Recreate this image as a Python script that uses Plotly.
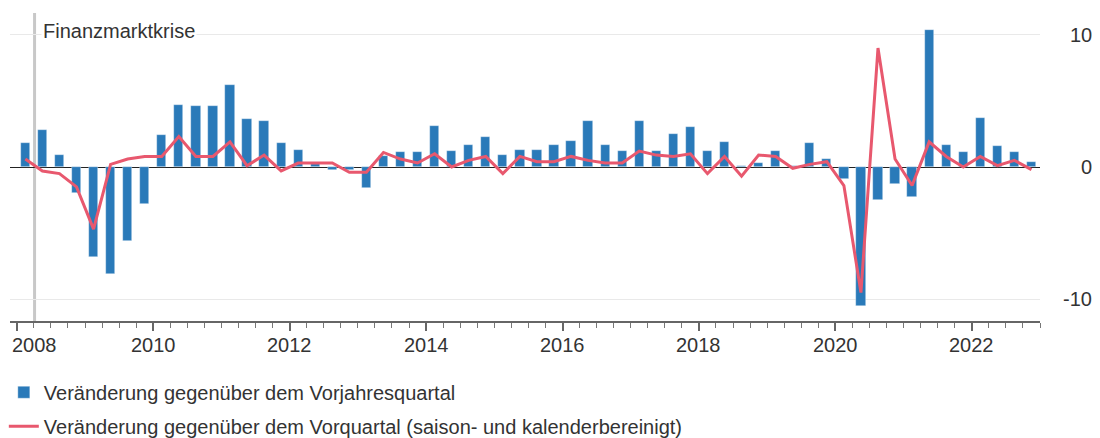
import plotly.graph_objects as go

# Quarterly GDP change in percent, 2008 Q1 - 2022 Q4
YEARS = list(range(2008, 2023))
QUARTERS_PER_YEAR = 4

# Change versus the same quarter of the previous year
YOY = [
    1.8, 2.8, 0.9, -2.0,
    -6.8, -8.1, -5.6, -2.8,
    2.4, 4.7, 4.6, 4.6,
    6.2, 3.6, 3.5, 1.8,
    1.3, 0.2, -0.2, -0.2,
    -1.6, 0.8, 1.1, 1.1,
    3.1, 1.2, 1.7, 2.3,
    0.9, 1.3, 1.3, 1.7,
    2.0, 3.5, 1.7, 1.2,
    3.5, 1.2, 2.5, 3.0,
    1.2, 1.9, 0.1, 0.3,
    1.2, 0.1, 1.8, 0.6,
    -0.9, -10.5, -2.5, -1.3,
    -2.3, 10.4, 1.7, 1.1,
    3.7, 1.6, 1.1, 0.4,
]

# Change versus the previous quarter (seasonally and calendar adjusted)
QOQ = [
    0.6, -0.3, -0.5, -1.5,
    -4.7, 0.2, 0.6, 0.8,
    0.8, 2.3, 0.8, 0.8,
    1.9, 0.1, 0.9, -0.3,
    0.3, 0.3, 0.3, -0.4,
    -0.4, 1.1, 0.6, 0.3,
    1.0, 0.0, 0.5, 0.8,
    -0.5, 0.8, 0.4, 0.4,
    0.8, 0.5, 0.3, 0.3,
    1.2, 0.9, 0.8, 1.0,
    -0.5, 0.8, -0.7, 0.9,
    0.8, -0.1, 0.2, 0.4,
    -1.4, -9.5, 9.0, 0.6,
    -1.4, 1.9, 0.8, 0.0,
    0.8, 0.1, 0.5, -0.2,
]

CRISIS_DATE = 2008.26
CRISIS_LABEL = "Finanzmarktkrise"

X_TICKS = list(range(2008, 2023, 2))
Y_TICKS = [-10, 0, 10]

NAME_YOY = "Veränderung gegenüber dem Vorjahresquartal"
NAME_QOQ = "Veränderung gegenüber dem Vorquartal (saison- und kalenderbereinigt)"

BLUE = "#2a7ab9"
RED = "#e8586e"
TEXT = "#333333"
FONT = "Liberation Sans, Arial, Helvetica, sans-serif"

X_RANGE = [2007.9, 2023.0]
Y_RANGE = [-11.65, 11.65]

# mid-quarter positions on a decimal-year axis
x_pos = [y + (q + 0.5) / QUARTERS_PER_YEAR for y in YEARS for q in range(QUARTERS_PER_YEAR)]

fig = go.Figure()
fig.add_trace(go.Bar(
    x=x_pos, y=YOY, name=NAME_YOY,
    marker=dict(color=BLUE, line=dict(width=0.6, color="rgba(255,255,255,0.6)")),
    width=0.136, legendgroup="a",
))
fig.add_trace(go.Scatter(
    x=x_pos, y=QOQ, name=NAME_QOQ, mode="lines",
    line=dict(color=RED, width=3), legendgroup="b",
))

annotations = []
# x-axis year labels
for yr in X_TICKS:
    first = yr == X_TICKS[0]
    annotations.append(dict(
        x=X_RANGE[0] if first else yr, xref="x", xanchor="left" if first else "center",
        y=-0.078, yref="paper", yanchor="middle",
        text=str(yr), showarrow=False, font=dict(size=20, color=TEXT, family=FONT),
    ))
# y-axis labels, right aligned
for v in Y_TICKS:
    annotations.append(dict(
        x=1, xref="paper", xanchor="right", xshift=54,
        y=v, yref="y", yanchor="middle",
        text=str(v), showarrow=False, font=dict(size=20, color=TEXT, family=FONT),
    ))
annotations.append(dict(
    x=CRISIS_DATE, xref="x", xanchor="left", xshift=6,
    y=0.9425, yref="paper", yanchor="middle",
    text=CRISIS_LABEL, showarrow=False, bgcolor="white", borderpad=1,
    font=dict(size=20, color=TEXT, family=FONT),
))

fig.update_layout(
    width=1100, height=438,
    margin=dict(l=10, r=60, t=13, b=117, autoexpand=False),
    paper_bgcolor="white", plot_bgcolor="white",
    font=dict(family=FONT, size=20, color=TEXT),
    bargap=0,
    showlegend=True,
    legend=dict(
        orientation="v", x=-0.006, xanchor="left", y=-0.168, yanchor="top",
        font=dict(size=20, color=TEXT, family=FONT),
        traceorder="grouped", tracegroupgap=5,
        bgcolor="rgba(0,0,0,0)",
    ),
    xaxis=dict(
        range=X_RANGE, showgrid=False, zeroline=False,
        showline=True, linecolor="#666666", linewidth=1.5,
        ticks="outside", ticklen=8, tickwidth=1.5, tickcolor="#666666",
        tick0=2008, dtick=2, showticklabels=False,
        minor=dict(ticks="outside", ticklen=5, tickwidth=1, tickcolor="#777777",
                   tick0=2008, dtick=0.25, showgrid=False),
        fixedrange=True,
    ),
    yaxis=dict(
        range=Y_RANGE, side="right", tickvals=Y_TICKS, showticklabels=False,
        showgrid=True, gridcolor="#e9e9e9", gridwidth=1,
        zeroline=True, zerolinecolor="#222222", zerolinewidth=1.3,
        ticks="", showline=False, fixedrange=True,
    ),
    annotations=annotations,
    shapes=[dict(
        type="line", xref="x", yref="paper", x0=CRISIS_DATE, x1=CRISIS_DATE, y0=0, y1=1,
        line=dict(color="#c8c8c8", width=3), layer="below",
    )],
)

fig.write_html("out.html")
